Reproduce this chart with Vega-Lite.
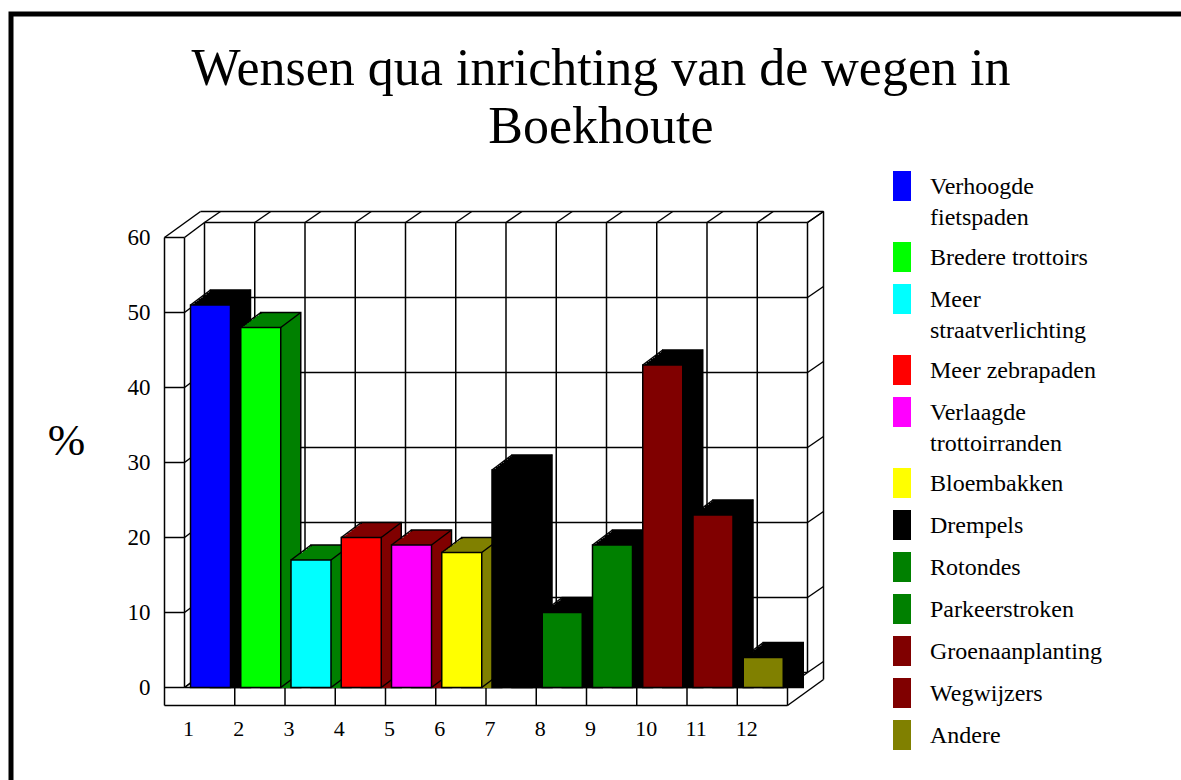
{"$schema":"https://vega.github.io/schema/vega-lite/v6.json","width":1176,"height":772,"autosize":"none","padding":{"left":11,"top":14,"right":0,"bottom":0},"background":"white",
"config":{"view":{"stroke":"black","strokeWidth":5},"font":"Liberation Serif","rule":{"strokeWidth":1.5}},
"title":{"text":["Wensen qua inrichting van de wegen in","Boekhoute"],"anchor":"start","frame":"group","align":"center","baseline":"alphabetic","dx":590,"dy":73,"offset":-108,"font":"Liberation Serif","fontSize":52,"fontWeight":"normal","lineHeight":58,"color":"black"},
"datasets":{"bars":[
{"nr":1,"wens":"Verhoogde fietspaden","pct":51},
{"nr":2,"wens":"Bredere trottoirs","pct":48},
{"nr":3,"wens":"Meer straatverlichting","pct":17},
{"nr":4,"wens":"Meer zebrapaden","pct":20},
{"nr":5,"wens":"Verlaagde trottoirranden","pct":19},
{"nr":6,"wens":"Bloembakken","pct":18},
{"nr":7,"wens":"Drempels","pct":29},
{"nr":8,"wens":"Rotondes","pct":10},
{"nr":9,"wens":"Parkeerstroken","pct":19},
{"nr":10,"wens":"Groenaanplanting","pct":43},
{"nr":11,"wens":"Wegwijzers","pct":23},
{"nr":12,"wens":"Andere","pct":4}],
"ticks":[{"v":0},{"v":10},{"v":20},{"v":30},{"v":40},{"v":50},{"v":60}],
"cols":[{"i":1},{"i":2},{"i":3},{"i":4},{"i":5},{"i":6},{"i":7},{"i":8},{"i":9},{"i":10},{"i":11},{"i":12},{"i":13}]},
"encoding":{
"x":{"type":"quantitative","scale":{"domain":[1,13],"range":[173.5,776.5],"nice":false,"zero":false,"padding":0},"axis":{"values":[1,2,3,4,5,6,7,8,9,10,11,12],"title":null,"orient":"bottom","offset":-81,"domain":false,"ticks":false,"grid":false,"labelFont":"Liberation Serif","labelFontSize":22,"labelColor":"black","labelPadding":13,"labelOffset":-2,"labelFlush":false,"labelOverlap":false,"labelAlign":"left"}},
"y":{"type":"quantitative","scale":{"domain":[0,60],"range":[673.5,223.5],"nice":false},"axis":{"values":[0,10,20,30,40,50,60],"title":"%","titleAngle":0,"titleFont":"Liberation Serif","titleFontSize":45,"titleFontWeight":"normal","titleColor":"black","titleX":-84,"titleY":426,"titleAlign":"center","titleBaseline":"middle","orient":"left","offset":-139,"domain":false,"ticks":false,"grid":false,"labelFont":"Liberation Serif","labelFontSize":23,"labelColor":"black","labelPadding":0,"labelFlush":false,"labelOverlap":false}}},
"layer":[
{"data":{"name":"ticks"},"mark":{"type":"rule","color":"black","xOffset":20,"x2Offset":20,"yOffset":-15},"encoding":{"x":{"datum":1},"x2":{"datum":13},"y":{"field":"v"}}},
{"data":{"name":"cols"},"mark":{"type":"rule","color":"black","xOffset":20,"yOffset":-15,"y2Offset":-15},"encoding":{"x":{"field":"i"},"y":{"datum":0},"y2":{"datum":60}}},
{"data":{"name":"ticks"},"mark":{"type":"rule","color":"black","xOffset":-20},"encoding":{"x":{"datum":1},"x2":{"datum":1},"y":{"field":"v"}}},
{"data":{"name":"ticks"},"mark":{"type":"rule","color":"black","x2Offset":20,"y2Offset":-15},"encoding":{"x":{"datum":1},"x2":{"datum":1},"y":{"field":"v"},"y2":{"field":"v"}}},
{"data":{"name":"ticks"},"mark":{"type":"rule","color":"black","xOffset":20,"yOffset":-15,"x2Offset":36,"y2Offset":-26},"encoding":{"x":{"datum":13},"x2":{"datum":13},"y":{"field":"v"},"y2":{"field":"v"}}},
{"data":{"name":"cols"},"mark":{"type":"rule","color":"black","xOffset":20,"yOffset":-15,"x2Offset":36,"y2Offset":-26},"encoding":{"x":{"field":"i"},"x2":{"field":"i"},"y":{"datum":60},"y2":{"datum":60}}},
{"data":{"name":"cols"},"mark":{"type":"rule","color":"black","x2Offset":20,"y2Offset":-15},"encoding":{"x":{"field":"i"},"x2":{"field":"i"},"y":{"datum":0},"y2":{"datum":0}}},
{"data":{"name":"cols"},"transform":[{"filter":"datum.i>1"}],"mark":{"type":"rule","color":"black","y2Offset":18},"encoding":{"x":{"field":"i"},"y":{"datum":0},"y2":{"datum":0}}},
{"data":{"values":[{"k":"frame"}]},"layer":[
{"mark":{"type":"rule","color":"black","xOffset":16,"x2Offset":36,"yOffset":-26},"encoding":{"x":{"datum":1},"x2":{"datum":13},"y":{"datum":60}}},
{"mark":{"type":"rule","color":"black","xOffset":-20,"x2Offset":16,"y2Offset":-26},"encoding":{"x":{"datum":1},"x2":{"datum":1},"y":{"datum":60},"y2":{"datum":60}}},
{"mark":{"type":"rule","color":"black","xOffset":-20,"y2Offset":18},"encoding":{"x":{"datum":1},"y":{"datum":60},"y2":{"datum":0}}},
{"mark":{"type":"rule","color":"black"},"encoding":{"x":{"datum":1},"y":{"datum":60},"y2":{"datum":0}}},
{"mark":{"type":"rule","color":"black"},"encoding":{"x":{"datum":1},"x2":{"datum":13},"y":{"datum":0}}},
{"mark":{"type":"rule","color":"black","xOffset":-20,"yOffset":18},"encoding":{"x":{"datum":1},"x2":{"datum":13},"y":{"datum":0}}},
{"mark":{"type":"rule","color":"black","xOffset":36,"yOffset":-26,"y2Offset":-8},"encoding":{"x":{"datum":13},"y":{"datum":60},"y2":{"datum":0}}},
{"mark":{"type":"rule","color":"black","yOffset":18,"x2Offset":36,"y2Offset":-8},"encoding":{"x":{"datum":13},"x2":{"datum":13},"y":{"datum":0},"y2":{"datum":0}}}
]},
{"data":{"name":"bars"},
"encoding":{"x":{"field":"nr","type":"quantitative"},
"y":{"field":"pct","type":"quantitative","stack":null},
"color":{"field":"wens","type":"nominal","legend":null,"sort":null,"scale":{"domain":["Andere","Wegwijzers","Groenaanplanting","Parkeerstroken","Rotondes","Drempels","Bloembakken","Verlaagde trottoirranden","Meer zebrapaden","Meer straatverlichting","Bredere trottoirs","Verhoogde fietspaden"],"range":["#000000","#000000","#000000","#000000","#000000","#000000","#808000","#800000","#800000","#008000","#008000","#000000"]}}},
"layer":[
{"mark":{"type":"bar","orient":"vertical","size":40,"xOffset":46,"yOffset":-15,"stroke":"black","strokeWidth":1.5}},
{"mark":{"type":"bar","orient":"vertical","size":40,"xOffset":44,"yOffset":-13.5}},
{"mark":{"type":"bar","orient":"vertical","size":40,"xOffset":42,"yOffset":-12}},
{"mark":{"type":"bar","orient":"vertical","size":40,"xOffset":40,"yOffset":-10.5}},
{"mark":{"type":"bar","orient":"vertical","size":40,"xOffset":38,"yOffset":-9}},
{"mark":{"type":"bar","orient":"vertical","size":40,"xOffset":36,"yOffset":-7.5}},
{"mark":{"type":"bar","orient":"vertical","size":40,"xOffset":34,"yOffset":-6}},
{"mark":{"type":"bar","orient":"vertical","size":40,"xOffset":32,"yOffset":-4.5}},
{"mark":{"type":"bar","orient":"vertical","size":40,"xOffset":30,"yOffset":-3}},
{"mark":{"type":"bar","orient":"vertical","size":40,"xOffset":28,"yOffset":-1.5}},
{"mark":{"type":"rule","color":"black","xOffset":6,"x2Offset":26,"y2Offset":-15},"encoding":{"x2":{"field":"nr"},"y2":{"field":"pct"},"color":{"value":"black"}}},
{"mark":{"type":"rule","color":"black","xOffset":46,"x2Offset":66,"y2Offset":-15},"encoding":{"x2":{"field":"nr"},"y2":{"field":"pct"},"color":{"value":"black"}}},
{"mark":{"type":"rule","color":"black","xOffset":46,"x2Offset":66,"y2Offset":-15},"encoding":{"x2":{"field":"nr"},"y":{"datum":0},"y2":{"datum":0},"color":{"value":"black"}}}
]},
{"data":{"name":"bars"},"mark":{"type":"bar","orient":"vertical","size":40,"xOffset":26,"stroke":"black","strokeWidth":1.5},"encoding":{"x":{"field":"nr","type":"quantitative"},"y":{"field":"pct","type":"quantitative","stack":null},"fill":{"field":"wens","type":"nominal","sort":null,"scale":{"domain":["Verhoogde fietspaden","Bredere trottoirs","Meer straatverlichting","Meer zebrapaden","Verlaagde trottoirranden","Bloembakken","Drempels","Rotondes","Parkeerstroken","Groenaanplanting","Wegwijzers","Andere"],"range":["#0000ff","#00ff00","#00ffff","#ff0000","#ff00ff","#ffff00","#000000","#008000","#008000","#800000","#800000","#808000"]},"legend":{"title":null,"orient":"none","legendX":876,"legendY":157,"padding":0,"symbolType":"M-0.6,-1H0.6V1H-0.6Z","symbolSize":900,"symbolStrokeWidth":0,"symbolStrokeColor":"transparent","labelFont":"Liberation Serif","labelFontSize":24,"labelColor":"black","labelLimit":300,"labelOffset":13,"labelBaseline":"top","rowPadding":12,"labelExpr":"test(/^(Verhoogde|Meer s|Verlaagde)/, datum.label) ? split(datum.label,' ') : datum.label","encoding":{"labels":{"dy":{"value":-11},"lineHeight":{"value":31}}}}}}}
]}
